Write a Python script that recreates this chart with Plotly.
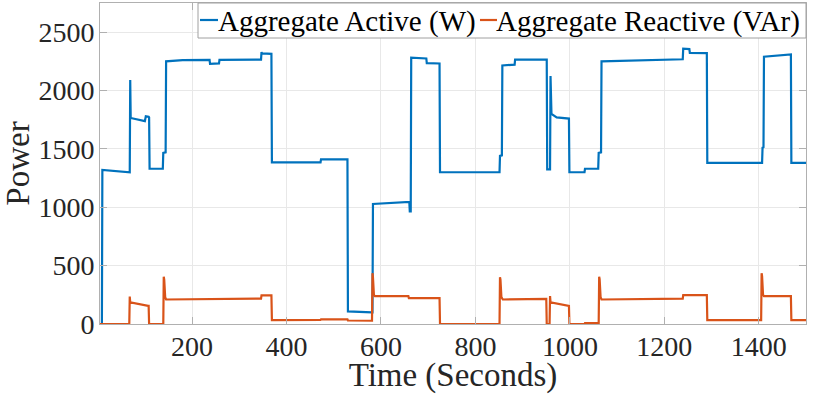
import plotly.graph_objects as go

# Aggregate active power (W)
t_active = [5, 9, 10, 68, 69, 70, 100, 102, 108, 109, 110, 138, 139, 144, 145, 180,
            237, 238, 257, 258, 346, 347, 348, 368, 369, 472, 473, 529, 530, 581,
            582, 583, 657, 660, 661, 663, 664, 696, 697, 724, 725, 851, 852, 856,
            857, 883, 884, 951, 952, 958, 959, 961, 972, 998, 999, 1031, 1032, 1060,
            1061, 1066, 1067, 1239, 1240, 1253, 1254, 1290, 1291, 1407, 1408, 1410,
            1411, 1468, 1469, 1500]
p_active = [0, 0, 1320, 1300, 2090, 1765, 1738, 1780, 1775, 1770, 1330, 1330, 1465, 1470, 2250, 2260,
            2262, 2228, 2232, 2262, 2265, 2330, 2318, 2315, 1385, 1385, 1410, 1410, 108, 100,
            100, 1028, 1045, 1045, 965, 965, 2282, 2275, 2235, 2232, 1300, 1300, 1440, 1445,
            2215, 2222, 2265, 2265, 1325, 1325, 2125, 1800, 1770, 1760, 1300, 1300, 1330, 1330,
            1465, 1470, 2250, 2268, 2358, 2355, 2322, 2320, 1380, 1380, 1510, 1515,
            2290, 2310, 1380, 1380]

# Aggregate reactive power (VAr)
t_reactive = [5, 67, 68, 69, 107, 108, 109, 139, 140, 141, 143, 145, 346, 347, 368, 369,
              472, 473, 529, 530, 581, 582, 583, 585, 587, 658, 659, 724, 725, 851,
              852, 853, 855, 858, 950, 951, 957, 958, 959, 998, 999, 1031, 1032, 1061,
              1062, 1063, 1065, 1067, 1239, 1240, 1290, 1291, 1405, 1406, 1407, 1409,
              1411, 1468, 1469, 1500]
q_reactive = [0, 0, 235, 185, 155, 155, 0, 0, 405, 380, 230, 210, 218, 246, 246, 34,
              36, 40, 40, 30, 28, 435, 400, 250, 238, 240, 222, 222, 0, 0,
              400, 380, 230, 210, 216, 0, 0, 240, 185, 155, 0, 0, 8, 8,
              405, 385, 230, 210, 218, 248, 248, 34, 34, 435, 410, 250,
              238, 240, 34, 34]

x_ticks = [200, 400, 600, 800, 1000, 1200, 1400]
y_ticks = [0, 500, 1000, 1500, 2000, 2500]

blue = '#0072BD'
orange = '#D95319'
font = 'Liberation Serif, Times New Roman, serif'

fig = go.Figure()
fig.add_trace(go.Scatter(x=t_active, y=p_active, mode='lines',
                         line=dict(color=blue, width=2.2),
                         name='Aggregate Active (W)'))
fig.add_trace(go.Scatter(x=t_reactive, y=q_reactive, mode='lines',
                         line=dict(color=orange, width=2.2),
                         name='Aggregate Reactive (VAr)'))

axis_style = dict(
    showgrid=True, gridcolor='#e8e8e8', gridwidth=1,
    showline=True, linecolor='#b0b0b0', linewidth=1, mirror='ticks',
    ticks='inside', ticklen=7, tickcolor='#b0b0b0',
    zeroline=False, automargin=False,
    tickfont=dict(family=font, size=28, color='#262626'),
)

fig.update_xaxes(range=[5, 1500], tickvals=x_ticks, ticklabelstandoff=-3,
                 title=dict(text='Time (Seconds)', font=dict(family=font, size=33, color='#262626'),
                            standoff=0),
                 **axis_style)
fig.update_yaxes(range=[0, 2750], tickvals=y_ticks, ticklabelstandoff=-1,
                 title=dict(text='Power', font=dict(family=font, size=33, color='#262626'),
                            standoff=8),
                 **axis_style)

# legend box drawn by hand so the short MATLAB-style line tokens fit
def px_x(p):
    return (p - 100) / 706

def px_y(p):
    return (324 - p) / 321

shapes = [
    dict(type='rect', xref='paper', yref='paper', x0=px_x(198), x1=px_x(806),
         y0=px_y(38), y1=px_y(3), line=dict(color='#a0a0a0', width=1), fillcolor='white',
         layer='above'),
    dict(type='line', xref='paper', yref='paper', x0=px_x(200), x1=px_x(218),
         y0=px_y(20), y1=px_y(20), line=dict(color=blue, width=2.2), layer='above'),
    dict(type='line', xref='paper', yref='paper', x0=px_x(480), x1=px_x(497),
         y0=px_y(20), y1=px_y(20), line=dict(color=orange, width=2.2), layer='above'),
]
annotations = [
    dict(xref='paper', yref='paper', x=px_x(216), y=px_y(21), xanchor='left', yanchor='middle',
         text='Aggregate Active (W)', showarrow=False,
         font=dict(family=font, size=29, color='#000000')),
    dict(xref='paper', yref='paper', x=px_x(494), y=px_y(21), xanchor='left', yanchor='middle',
         text='Aggregate Reactive (VAr)', showarrow=False,
         font=dict(family=font, size=29, color='#000000')),
]

fig.update_layout(
    width=830, height=394,
    margin=dict(l=100, r=24, t=3, b=70),
    plot_bgcolor='white', paper_bgcolor='white',
    showlegend=False,
    shapes=shapes,
    annotations=annotations,
)

# the page body has a default 8px margin; drop it so the figure sits at the window corner
fig.write_html("out.html", config={'displayModeBar': False},
               post_script="document.body.style.margin='0';")
